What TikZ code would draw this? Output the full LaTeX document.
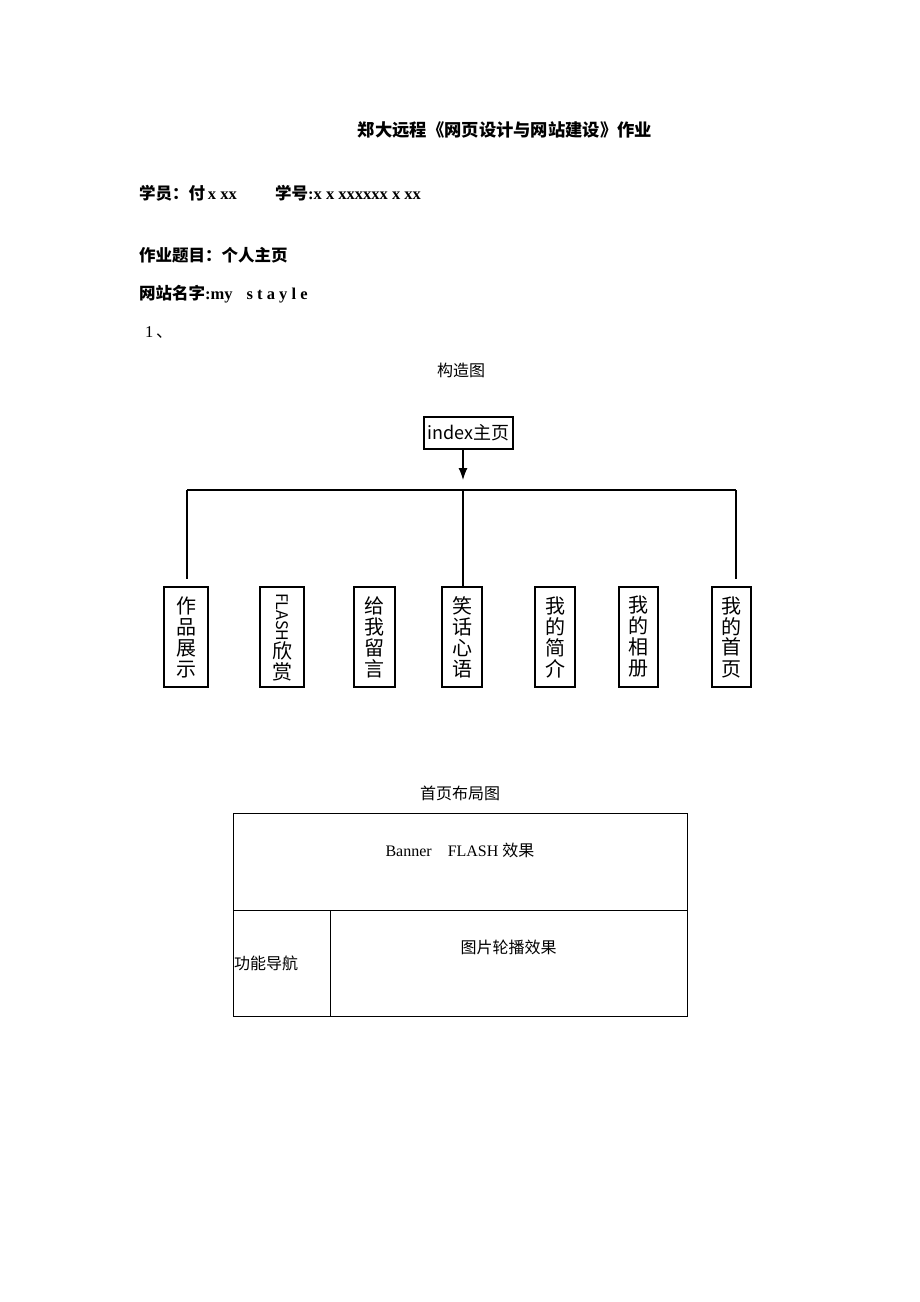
\documentclass[tikz,border=0pt]{standalone}
\usepackage{fontspec}
\setmainfont{Liberation Serif}
\newfontfamily\cjk{Noto Sans CJK SC}
\usetikzlibrary{arrows.meta}
\tikzset{every picture/.style={x=1pt,y=-1pt},
 line/.style={anchor=west,inner sep=0pt,font=\fontsize{16.5}{19}\selectfont\bfseries},
 caption/.style={inner sep=0pt,font=\fontsize{16}{19}\selectfont},
 topbox/.style={draw,line width=1.2pt,inner sep=0pt,minimum width=89pt,minimum height=32pt,
   font=\cjk\fontsize{18}{20}\selectfont},
 pagebox/.style={draw,line width=1.2pt,inner sep=0pt,minimum height=100pt,align=center,
   font=\cjk\fontsize{20}{21}\selectfont},
 link/.style={line width=1.2pt},
 }

\begin{document}
\begin{tikzpicture}
    \useasboundingbox (0,0) rectangle (920,1302);
    % header
    \node[line,anchor=center,font=\fontsize{17.3}{20}\selectfont\bfseries] (title) at (505,130)
        {\cjk 郑大远程《网页设计与网站建设》作业};
    \node[line] (student) at (139,193) {{\cjk 学员：付}\,x xx};
    \node[line] (number) at (275,193) {{\cjk 学号}:x x xxxxxx x xx};
    \node[line] (topic) at (139,255) {\cjk 作业题目：个人主页};
    \node[line] (site) at (139,294) {{\cjk 网站名字}:my\hspace{14pt}s t a y l e};
    \node[line,font=\fontsize{16.5}{19}\selectfont] (one) at (145,333) {1\,{\cjk 、}};

    % structure chart
    \node[caption] (chart) at (461,370) {\cjk 构造图};
    \node[topbox] (index) at (468.5,433) {index主页};
    \coordinate (tip) at (463,480);
    \coordinate (barl) at (187,490);
    \coordinate (barm) at (463,490);
    \coordinate (barr) at (736,490);
    \coordinate (endl) at (187,579);
    \coordinate (endr) at (736,579);

    \node[pagebox,minimum width=44pt] (works) at (186,637) {作\\品\\展\\示};
    \node[pagebox,minimum width=44pt] (flash) at (282,637)
        {\rotatebox{-90}{\fontsize{16}{16}\selectfont FLASH}\\[-1pt]欣\\赏};
    \node[pagebox,minimum width=41pt] (board) at (374.5,637) {给\\我\\留\\言};
    \node[pagebox,minimum width=40pt] (jokes) at (462,637) {笑\\话\\心\\语};
    \node[pagebox,minimum width=40pt] (about) at (555,637) {我\\的\\简\\介};
    \node[pagebox,minimum width=39pt] (album) at (638.5,637) {我\\的\\相\\册};
    \node[pagebox,minimum width=39pt] (home) at (731.5,637) {我\\的\\首\\页};

    \draw[link,-{Latex[length=12pt,width=9pt]}] (index.south -| tip) -- (tip);
    \draw[link] (barl) -- (barr);
    \draw[link] (barl) -- (endl);
    \draw[link] (barm) -- (jokes.north -| barm);
    \draw[link] (barr) -- (endr);

    % home page layout
    \node[caption] (layout) at (460,793) {\cjk 首页布局图};
    \draw[line width=0.9pt] (233,813) rectangle (687,1016);
    \draw[line width=0.9pt] (233,910) -- (687,910);
    \draw[line width=0.9pt] (330,910) -- (330,1016);
    \node[caption] (banner) at (460,850) {Banner\hspace{16pt}FLASH {\cjk 效果}};
    \node[caption] (slides) at (508.5,947) {\cjk 图片轮播效果};
    \node[caption,anchor=west] (menu) at (234,963) {\cjk 功能导航};
\end{tikzpicture}
\end{document}
